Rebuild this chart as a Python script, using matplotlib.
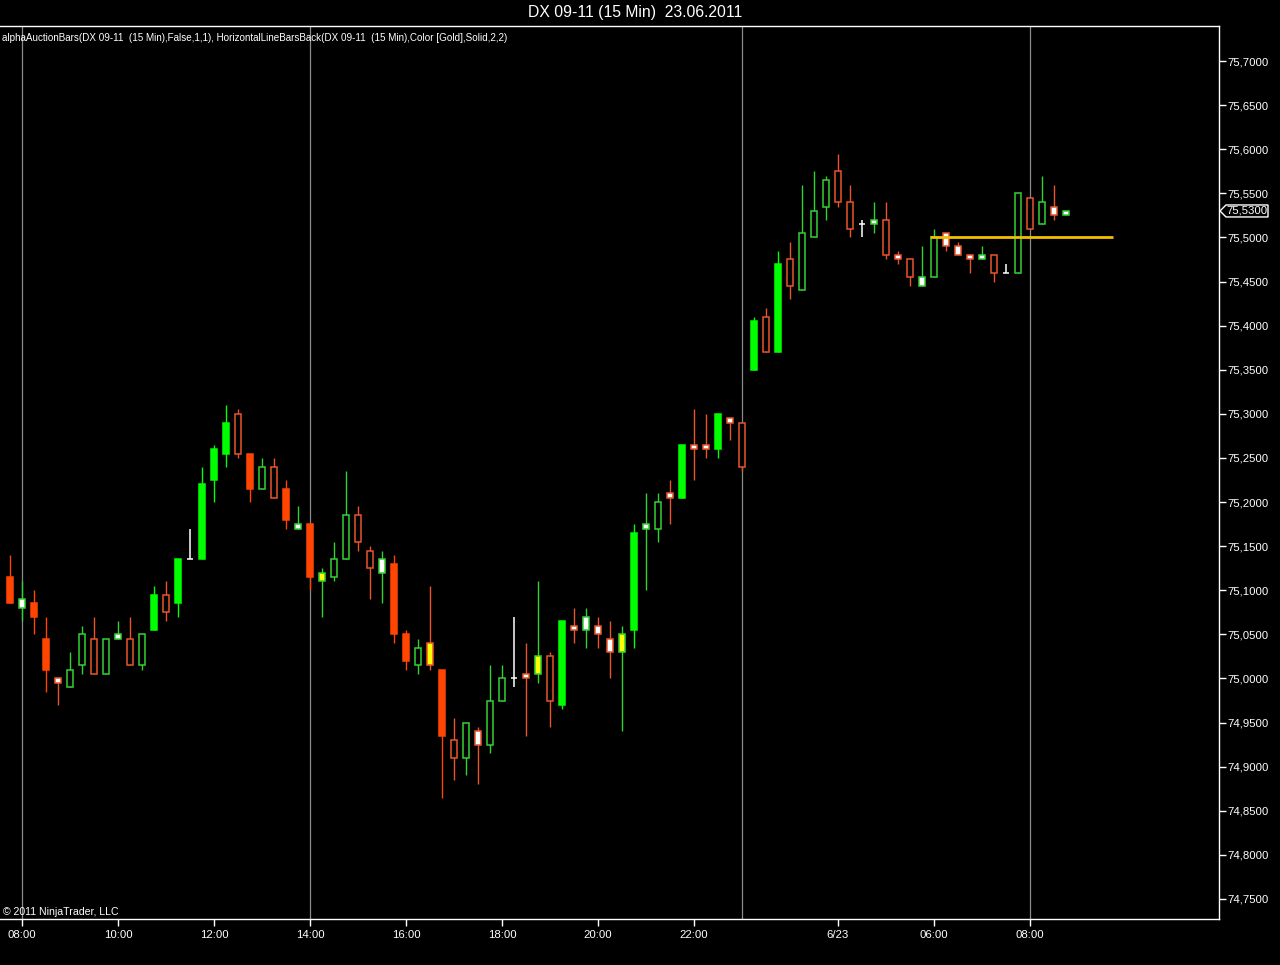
import matplotlib
matplotlib.use('Agg')
import matplotlib.pyplot as plt
from matplotlib.patches import Rectangle, Polygon
from matplotlib.transforms import blended_transform_factory

plt.rcParams['font.family'] = ['Liberation Sans', 'DejaVu Sans']

# ---------------- data (15-min bars) ----------------
opens = [75.115, 75.080, 75.085, 75.045, 75.000, 74.990, 75.015, 75.045, 75.005, 75.045,
         75.045, 75.015, 75.055, 75.095, 75.085, 75.135, 75.135, 75.225, 75.255, 75.300,
         75.255, 75.215, 75.240, 75.215, 75.170, 75.175, 75.110, 75.115, 75.135, 75.185,
         75.145, 75.120, 75.130, 75.050, 75.015, 75.040, 75.010, 74.930, 74.910, 74.940,
         74.925, 74.975, 75.000, 75.005, 75.005, 75.025, 74.970, 75.060, 75.055, 75.060,
         75.045, 75.030, 75.055, 75.170, 75.170, 75.210, 75.205, 75.265, 75.265, 75.260,
         75.295, 75.290, 75.350, 75.410, 75.370, 75.475, 75.440, 75.500, 75.535, 75.575,
         75.540, 75.515, 75.515, 75.520, 75.480, 75.475, 75.445, 75.455, 75.505, 75.490,
         75.480, 75.475, 75.480, 75.460, 75.460, 75.545, 75.515, 75.535, 75.525]
highs = [75.140, 75.110, 75.100, 75.070, 75.000, 75.030, 75.060, 75.070, 75.045, 75.065,
         75.070, 75.050, 75.105, 75.110, 75.135, 75.170, 75.240, 75.265, 75.310, 75.305,
         75.255, 75.250, 75.250, 75.225, 75.195, 75.175, 75.125, 75.155, 75.235, 75.195,
         75.150, 75.145, 75.140, 75.055, 75.045, 75.105, 75.010, 74.955, 74.950, 74.945,
         75.015, 75.015, 75.070, 75.040, 75.110, 75.030, 75.065, 75.080, 75.080, 75.070,
         75.065, 75.060, 75.175, 75.210, 75.210, 75.225, 75.265, 75.305, 75.300, 75.300,
         75.295, 75.290, 75.410, 75.420, 75.485, 75.495, 75.560, 75.575, 75.570, 75.595,
         75.560, 75.520, 75.540, 75.540, 75.485, 75.475, 75.490, 75.510, 75.505, 75.495,
         75.480, 75.490, 75.480, 75.470, 75.550, 75.545, 75.570, 75.560, 75.530]
lows = [75.085, 75.065, 75.050, 74.985, 74.970, 74.990, 75.005, 75.005, 75.005, 75.045,
        75.015, 75.010, 75.055, 75.065, 75.070, 75.135, 75.135, 75.200, 75.240, 75.250,
        75.200, 75.215, 75.205, 75.170, 75.170, 75.100, 75.070, 75.110, 75.135, 75.145,
        75.090, 75.085, 75.040, 75.010, 75.005, 75.010, 74.865, 74.885, 74.890, 74.880,
        74.915, 74.975, 74.990, 74.935, 74.995, 74.945, 74.965, 75.040, 75.035, 75.035,
        75.000, 74.940, 75.035, 75.100, 75.155, 75.175, 75.205, 75.225, 75.250, 75.250,
        75.270, 75.235, 75.350, 75.370, 75.370, 75.430, 75.440, 75.500, 75.520, 75.535,
        75.500, 75.500, 75.505, 75.475, 75.470, 75.445, 75.445, 75.455, 75.485, 75.480,
        75.460, 75.475, 75.450, 75.460, 75.460, 75.510, 75.515, 75.520, 75.525]
closes = [75.085, 75.090, 75.070, 75.010, 74.995, 75.010, 75.050, 75.005, 75.045, 75.050,
          75.015, 75.050, 75.095, 75.075, 75.135, 75.135, 75.220, 75.260, 75.290, 75.255,
          75.215, 75.240, 75.205, 75.180, 75.175, 75.115, 75.120, 75.135, 75.185, 75.155,
          75.125, 75.135, 75.050, 75.020, 75.035, 75.015, 74.935, 74.910, 74.950, 74.925,
          74.975, 75.000, 75.000, 75.000, 75.025, 74.975, 75.065, 75.055, 75.070, 75.050,
          75.030, 75.050, 75.165, 75.175, 75.200, 75.205, 75.265, 75.260, 75.260, 75.300,
          75.290, 75.240, 75.405, 75.370, 75.470, 75.445, 75.505, 75.530, 75.565, 75.540,
          75.510, 75.515, 75.520, 75.480, 75.475, 75.455, 75.455, 75.500, 75.490, 75.480,
          75.475, 75.480, 75.460, 75.460, 75.550, 75.510, 75.540, 75.525, 75.530]
# bar painting kind from the alphaAuctionBars indicator:
# S solid, H hollow, W white body, Y yellow body, D doji cross
kinds = ("SWSSWHHHHW" "HHSHSDSSSH" "SHHSWSYHHH" "HWSSHYSHHW" "HHDWYHSWWW"
         "WYSWHWSWWS" "WHSHSHHHHH" "HDWHWHWHWW" "WWHDHHHWW")

xtick_bars = [1, 9, 17, 25, 33, 41, 49, 57, 69, 77, 85]
xtick_labels = ['08:00', '10:00', '12:00', '14:00', '16:00', '18:00', '20:00',
                '22:00', '6/23', '06:00', '08:00']
session_bars = [1, 25, 61, 85]
ytick_values = [74.75 + 0.05 * k for k in range(20)]
gold_level = 75.50
gold_start_bar = 77

title = 'DX 09-11 (15 Min)  23.06.2011'
indicator_text = ('alphaAuctionBars(DX 09-11  (15 Min),False,1,1), '
                  'HorizontalLineBarsBack(DX 09-11  (15 Min),Color [Gold],Solid,2,2)')

# ---------------- style ----------------
UP_SOLID = '#00ff00'
UP_LINE = '#32d232'
DN_SOLID = '#ff4500'
DN_LINE = '#e8552c'
BODY_W = 0.56

fig = plt.figure(figsize=(12.8, 9.65), dpi=100, facecolor='black')
ax = fig.add_axes([0.0, 46 / 965, 1219 / 1280, (919 - 26) / 965])
ax.set_facecolor('black')

for i in session_bars:
    ax.axvline(i, color='#8a8a8a', lw=0.9, zorder=0.5)

for i, (o, h, l, c, k) in enumerate(zip(opens, highs, lows, closes, kinds)):
    up = c >= o
    top, bot = max(o, c), min(o, c)
    if k == 'D':
        ax.vlines(i, l, h, color='white', lw=1.1, zorder=2)
        ax.hlines(o, i - BODY_W / 2, i + BODY_W / 2, color='white', lw=1.1, zorder=2)
        continue
    if k == 'S':
        face = UP_SOLID if up else DN_SOLID
        edge = face
        wick = face
    else:
        edge = UP_LINE if up else DN_LINE
        wick = edge
        face = {'H': 'black', 'W': 'white', 'Y': '#ffff00'}[k]
    ax.vlines(i, l, h, color=wick, lw=1.0, zorder=2)
    ax.add_patch(Rectangle((i - BODY_W / 2, bot), BODY_W, top - bot,
                           facecolor=face, edgecolor=edge, lw=1.1, zorder=3))

# gold horizontal line
ax.hlines(gold_level, gold_start_bar - 0.3, len(closes) + 2.9, color='#f2bf00', lw=2, zorder=4)

ax.set_xlim(-0.83, 100.75)
ax.set_ylim(74.7273, 75.7397)

ax.yaxis.tick_right()
ax.set_yticks(ytick_values)
ax.set_yticklabels([f'{v:.4f}'.replace('.', ',') for v in ytick_values])
ax.tick_params(axis='y', colors='white', length=5, width=1, labelsize=8.2, pad=1)
ax.set_xticks(xtick_bars)
ax.set_xticklabels(xtick_labels)
ax.tick_params(axis='x', colors='white', length=5, width=1, labelsize=8.2, pad=3)

for s in ['top', 'right', 'bottom']:
    ax.spines[s].set_color('white')
    ax.spines[s].set_linewidth(1)
ax.spines['left'].set_visible(False)

# last price marker
last = closes[-1]
tr = blended_transform_factory(fig.transFigure, ax.transData)
hh = 0.0068
pts = [(1220 / 1280, last), (1226 / 1280, last + hh), (1268 / 1280, last + hh),
       (1268 / 1280, last - hh), (1226 / 1280, last - hh)]
fig.patches.append(Polygon(pts, closed=True, facecolor='black', edgecolor='white',
                           lw=1, transform=tr))
fig.text(1247 / 1280, last, f'{last:.4f}'.replace('.', ','), transform=tr,
         ha='center', va='center', color='white', fontsize=8.2)

fig.text(635 / 1280, 1 - 12 / 965, title, ha='center', va='center', color='white', fontsize=11.3)
fig.text(2 / 1280, 1 - 38 / 965, indicator_text, ha='left', va='center', color='white', fontsize=7.1)
fig.text(3 / 1280, 1 - 912 / 965, '\u00a9 2011 NinjaTrader, LLC', ha='left', va='center',
         color='white', fontsize=7.6)

fig.savefig('out.png', dpi=100, facecolor='black')
